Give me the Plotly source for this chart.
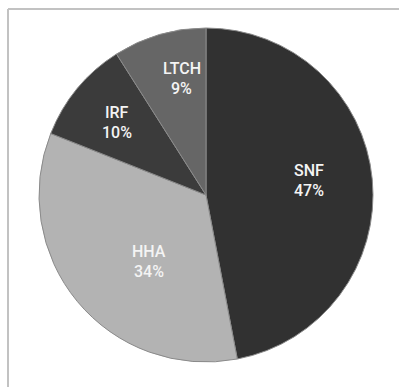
import math
import plotly.graph_objects as go

# Share of spending by post-acute care setting
categories = ["SNF", "HHA", "IRF", "LTCH"]
shares = [47, 34, 10, 9]
slice_colors = ["#313131", "#b3b3b3", "#3b3b3b", "#666666"]

# Label placement inside each slice: radius as a fraction of the pie radius,
# and a small angular nudge (degrees) away from the slice's middle
label_radius = [0.620, 0.526, 0.686, 0.710]
label_nudge = [-2.4, -9.7, -0.6, 4.4]

W, H = 399, 387
L, R, T, B = 39, 26, 28, 25
PW, PH = W - L - R, H - T - B
CX, CY = L + PW / 2, T + PH / 2
RADIUS = min(PW, PH) / 2

LABEL_FONT = dict(family="Roboto, sans-serif", size=16, color="#f4f4f4", weight=500)


def px_to_paper(x, y):
    return (x - L) / PW, (H - B - y) / PH


fig = go.Figure(
    go.Pie(
        labels=categories,
        values=shares,
        sort=False,
        direction="clockwise",
        rotation=0,
        marker=dict(colors=slice_colors, line=dict(color="#8a8a8a", width=1)),
        textinfo="none",
        showlegend=False,
        hoverinfo="label+percent",
    )
)

# Slice labels: name above, percentage below
total = sum(shares)
start = 0.0
for name, val, rf, nudge in zip(categories, shares, label_radius, label_nudge):
    sweep = 360.0 * val / total
    ang = math.radians(start + sweep / 2 + nudge)
    start += sweep
    px = CX + rf * RADIUS * math.sin(ang)
    py = CY - rf * RADIUS * math.cos(ang)
    ax, ay = px_to_paper(px, py)
    for text, shift in ((name, 10), (f"{val}%", -10)):
        fig.add_annotation(
            x=ax, y=ay, xref="paper", yref="paper",
            text=text, showarrow=False,
            xanchor="center", yanchor="middle", yshift=shift,
            font=LABEL_FONT,
        )

# Thin frame along the top and left edges
x0, y0 = px_to_paper(8, 9)
x1, _ = px_to_paper(W + 2, 9)
_, y1 = px_to_paper(8, H + 2)
fig.add_shape(type="line", xref="paper", yref="paper", x0=x0, y0=y0, x1=x1, y1=y0,
              line=dict(color="#c2c2c2", width=2))
fig.add_shape(type="line", xref="paper", yref="paper", x0=x0, y0=y0, x1=x0, y1=y1,
              line=dict(color="#c2c2c2", width=2))

fig.update_layout(
    width=W,
    height=H,
    margin=dict(l=L, r=R, t=T, b=B),
    paper_bgcolor="white",
    plot_bgcolor="white",
)

fig.write_html("out.html")
